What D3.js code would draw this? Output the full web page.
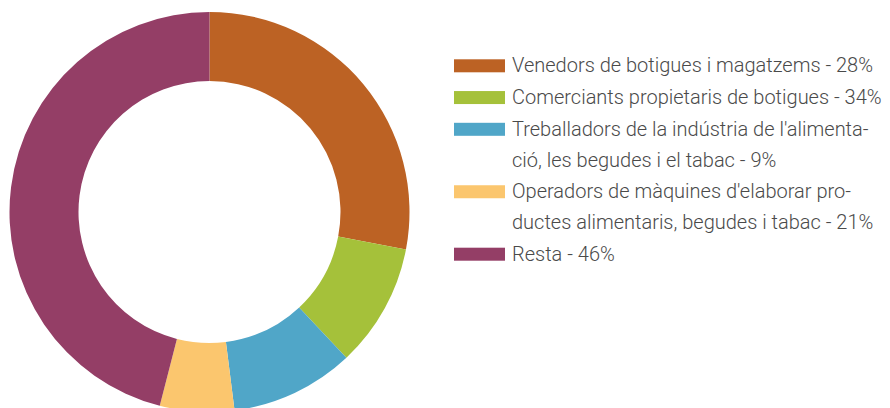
<!DOCTYPE html>
<html>
<head>
<meta charset="utf-8">
<script src="https://cdn.jsdelivr.net/npm/d3@7"></script>
<style>
  html, body { margin: 0; padding: 0; background: #fff; }
  svg { display: block; }
</style>
</head>
<body>
<svg id="chart" width="890" height="408"></svg>
<script>
// ---- data ----
const categories = [
  "Venedors de botigues i magatzems",
  "Comerciants propietaris de botigues",
  "Treballadors de la indústria de l'alimentació, les begudes i el tabac",
  "Operadors de màquines d'elaborar productes alimentaris, begudes i tabac",
  "Resta"
];
// legend text lines (as hyphenated in the reference)
const legendLines = [
  ["Venedors de botigues i magatzems - 28%"],
  ["Comerciants propietaris de botigues - 34%"],
  ["Treballadors de la indústria de l'alimenta-", "ció, les begudes i el tabac - 9%"],
  ["Operadors de màquines d'elaborar pro-", "ductes alimentaris, begudes i tabac - 21%"],
  ["Resta - 46%"]
];
const legendPct = [28, 34, 9, 21, 46];
// slice sizes as drawn in the donut (share of the circle, %)
const sliceValues = [28, 10, 10, 6, 46];
const colors = ["#bc6224", "#a5c13a", "#50a6c8", "#fbc66e", "#943e66"];

// ---- drawing ----
const svg = d3.select("#chart");
const cx = 209.5, cy = 212, rOuter = 200, rInner = 131;

const pie = d3.pie().sort(null).value(d => d.v);
const arc = d3.arc().innerRadius(rInner).outerRadius(rOuter);
const data = sliceValues.map((v, i) => ({ v, i, name: categories[i] }));

svg.append("g")
  .attr("transform", `translate(${cx},${cy})`)
  .selectAll("path")
  .data(pie(data))
  .join("path")
  .attr("d", arc)
  .attr("fill", d => colors[d.data.i]);

// legend
const lg = svg.append("g").attr("font-family", "Roboto, 'Open Sans', sans-serif")
  .attr("font-weight", 300).attr("font-size", 20).attr("fill", "#4a4a4a");
const swX = 454, swW = 51, swH = 13, textX = 512;
const firstBase = 72.3, itemGap = 31.75, lineGap = 30.7;
let base = firstBase;
legendLines.forEach((lines, i) => {
  lg.append("rect").attr("x", swX).attr("y", base - swH).attr("width", swW).attr("height", swH)
    .attr("fill", colors[i]);
  lines.forEach((t, j) => {
    lg.append("text").attr("x", textX).attr("y", base + j * lineGap).text(t);
  });
  base += (lines.length - 1) * lineGap + itemGap;
});
</script>
</body>
</html>
